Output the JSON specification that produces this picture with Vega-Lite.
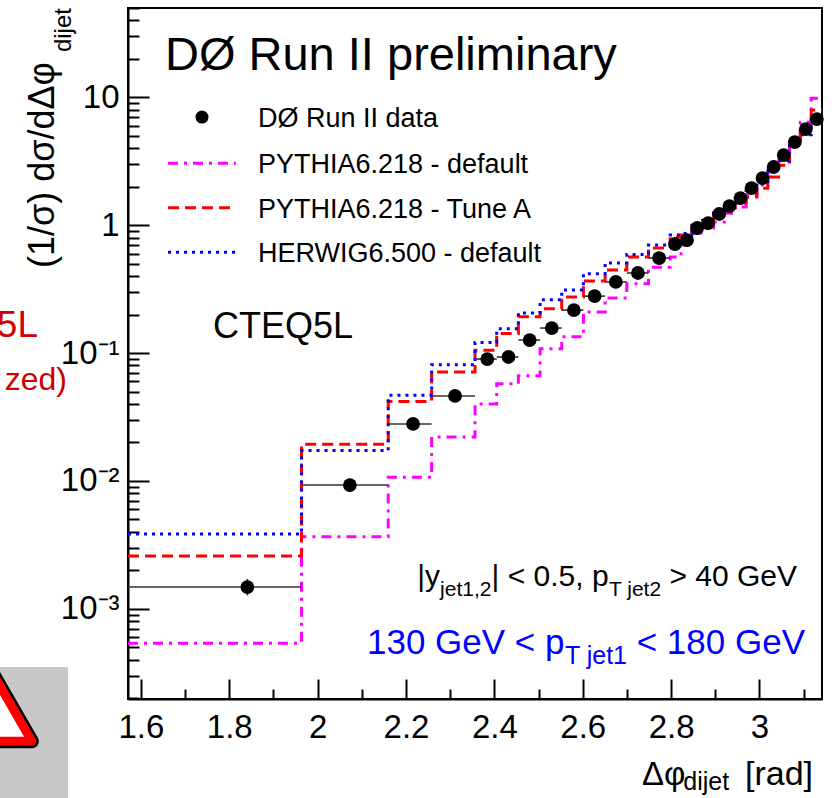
{
  "$schema": "https://vega.github.io/schema/vega-lite/v6.json",
  "width": 694,
  "height": 691,
  "autosize": {"type": "none"},
  "padding": {"left": 128, "top": 8, "right": 12, "bottom": 99},
  "background": "white",
  "config": {
    "view": {"stroke": "black", "strokeWidth": 2},
    "font": "Liberation Sans",
    "axis": {
      "grid": false,
      "domainColor": "black",
      "domainWidth": 2,
      "tickColor": "black",
      "tickWidth": 2,
      "labelColor": "black",
      "labelFont": "Liberation Sans",
      "labelFontSize": 33,
      "labelOverlap": false,
      "labelFlush": false,
      "labelBound": false
    }
  },
  "datasets": {
    "pts": [
      {"x": 1.841, "lo": 1.5708, "hi": 1.9635, "v": 0.00148, "elo": 0.00127, "ehi": 0.00171},
      {"x": 2.073, "lo": 1.9635, "hi": 2.1598, "v": 0.00929, "elo": 0.009, "ehi": 0.00958},
      {"x": 2.216, "lo": 2.1598, "hi": 2.258, "v": 0.0279, "elo": 0.0272, "ehi": 0.0286},
      {"x": 2.311, "lo": 2.258, "hi": 2.3562, "v": 0.0462, "elo": 0.0452, "ehi": 0.0472},
      {"x": 2.384, "lo": 2.3562, "hi": 2.4053, "v": 0.0898, "elo": 0.088, "ehi": 0.0916},
      {"x": 2.432, "lo": 2.4053, "hi": 2.4544, "v": 0.0932, "elo": 0.0913, "ehi": 0.0951},
      {"x": 2.48, "lo": 2.4544, "hi": 2.5035, "v": 0.1265, "elo": 0.124, "ehi": 0.129},
      {"x": 2.53, "lo": 2.5035, "hi": 2.5525, "v": 0.157, "elo": 0.154, "ehi": 0.16},
      {"x": 2.58, "lo": 2.5525, "hi": 2.6016, "v": 0.217, "elo": 0.213, "ehi": 0.221},
      {"x": 2.627, "lo": 2.6016, "hi": 2.6507, "v": 0.279, "elo": 0.274, "ehi": 0.284},
      {"x": 2.675, "lo": 2.6507, "hi": 2.6998, "v": 0.36, "elo": 0.353, "ehi": 0.367},
      {"x": 2.725, "lo": 2.6998, "hi": 2.7489, "v": 0.423, "elo": 0.415, "ehi": 0.431},
      {"x": 2.773, "lo": 2.7489, "hi": 2.798, "v": 0.554, "elo": 0.543, "ehi": 0.565},
      {"x": 2.809, "lo": 2.798, "hi": 2.8225, "v": 0.713, "elo": 0.699, "ehi": 0.727},
      {"x": 2.836, "lo": 2.8225, "hi": 2.8471, "v": 0.766, "elo": 0.751, "ehi": 0.781},
      {"x": 2.859, "lo": 2.8471, "hi": 2.8716, "v": 0.951, "elo": 0.932, "ehi": 0.97},
      {"x": 2.884, "lo": 2.8716, "hi": 2.8962, "v": 1.04, "elo": 1.019, "ehi": 1.061},
      {"x": 2.909, "lo": 2.8962, "hi": 2.9207, "v": 1.224, "elo": 1.2, "ehi": 1.248},
      {"x": 2.932, "lo": 2.9207, "hi": 2.9452, "v": 1.413, "elo": 1.385, "ehi": 1.441},
      {"x": 2.957, "lo": 2.9452, "hi": 2.9698, "v": 1.632, "elo": 1.6, "ehi": 1.664},
      {"x": 2.982, "lo": 2.9698, "hi": 2.9943, "v": 1.954, "elo": 1.915, "ehi": 1.993},
      {"x": 3.007, "lo": 2.9943, "hi": 3.0189, "v": 2.34, "elo": 2.293, "ehi": 2.387},
      {"x": 3.032, "lo": 3.0189, "hi": 3.0434, "v": 2.853, "elo": 2.796, "ehi": 2.91},
      {"x": 3.055, "lo": 3.0434, "hi": 3.068, "v": 3.54, "elo": 3.469, "ehi": 3.611},
      {"x": 3.08, "lo": 3.068, "hi": 3.0925, "v": 4.474, "elo": 4.385, "ehi": 4.563},
      {"x": 3.105, "lo": 3.0925, "hi": 3.1171, "v": 5.654, "elo": 5.541, "ehi": 5.767},
      {"x": 3.13, "lo": 3.1171, "hi": 3.1416, "v": 6.77, "elo": 6.635, "ehi": 6.905}
    ],
    "mc": [
      {"gen": "pd", "lo": 1.5708, "hi": 1.9635, "v": 0.000537},
      {"gen": "pd", "lo": 1.9635, "hi": 2.1598, "v": 0.00366},
      {"gen": "pd", "lo": 2.1598, "hi": 2.258, "v": 0.0107},
      {"gen": "pd", "lo": 2.258, "hi": 2.3562, "v": 0.0221},
      {"gen": "pd", "lo": 2.3562, "hi": 2.4053, "v": 0.04},
      {"gen": "pd", "lo": 2.4053, "hi": 2.4544, "v": 0.0575},
      {"gen": "pd", "lo": 2.4544, "hi": 2.5035, "v": 0.0665},
      {"gen": "pd", "lo": 2.5035, "hi": 2.5525, "v": 0.108},
      {"gen": "pd", "lo": 2.5525, "hi": 2.6016, "v": 0.134},
      {"gen": "pd", "lo": 2.6016, "hi": 2.6507, "v": 0.21},
      {"gen": "pd", "lo": 2.6507, "hi": 2.6998, "v": 0.27},
      {"gen": "pd", "lo": 2.6998, "hi": 2.7489, "v": 0.348},
      {"gen": "pd", "lo": 2.7489, "hi": 2.798, "v": 0.47},
      {"gen": "pd", "lo": 2.798, "hi": 2.8225, "v": 0.565},
      {"gen": "pd", "lo": 2.8225, "hi": 2.8471, "v": 0.7},
      {"gen": "pd", "lo": 2.8471, "hi": 2.8716, "v": 0.87},
      {"gen": "pd", "lo": 2.8716, "hi": 2.8962, "v": 0.95},
      {"gen": "pd", "lo": 2.8962, "hi": 2.9207, "v": 1.06},
      {"gen": "pd", "lo": 2.9207, "hi": 2.9452, "v": 1.24},
      {"gen": "pd", "lo": 2.9452, "hi": 2.9698, "v": 1.39},
      {"gen": "pd", "lo": 2.9698, "hi": 2.9943, "v": 1.72},
      {"gen": "pd", "lo": 2.9943, "hi": 3.0189, "v": 2.06},
      {"gen": "pd", "lo": 3.0189, "hi": 3.0434, "v": 2.7},
      {"gen": "pd", "lo": 3.0434, "hi": 3.068, "v": 3.3},
      {"gen": "pd", "lo": 3.068, "hi": 3.0925, "v": 4.55},
      {"gen": "pd", "lo": 3.0925, "hi": 3.1171, "v": 6.4},
      {"gen": "pd", "lo": 3.1171, "hi": 3.1416, "v": 9.85},
      {"gen": "pa", "lo": 1.5708, "hi": 1.9635, "v": 0.00259},
      {"gen": "pa", "lo": 1.9635, "hi": 2.1598, "v": 0.0194},
      {"gen": "pa", "lo": 2.1598, "hi": 2.258, "v": 0.0419},
      {"gen": "pa", "lo": 2.258, "hi": 2.3562, "v": 0.0711},
      {"gen": "pa", "lo": 2.3562, "hi": 2.4053, "v": 0.105},
      {"gen": "pa", "lo": 2.4053, "hi": 2.4544, "v": 0.142},
      {"gen": "pa", "lo": 2.4544, "hi": 2.5035, "v": 0.192},
      {"gen": "pa", "lo": 2.5035, "hi": 2.5525, "v": 0.222},
      {"gen": "pa", "lo": 2.5525, "hi": 2.6016, "v": 0.275},
      {"gen": "pa", "lo": 2.6016, "hi": 2.6507, "v": 0.367},
      {"gen": "pa", "lo": 2.6507, "hi": 2.6998, "v": 0.447},
      {"gen": "pa", "lo": 2.6998, "hi": 2.7489, "v": 0.565},
      {"gen": "pa", "lo": 2.7489, "hi": 2.798, "v": 0.665},
      {"gen": "pa", "lo": 2.798, "hi": 2.8225, "v": 0.81},
      {"gen": "pa", "lo": 2.8225, "hi": 2.8471, "v": 0.84},
      {"gen": "pa", "lo": 2.8471, "hi": 2.8716, "v": 0.98},
      {"gen": "pa", "lo": 2.8716, "hi": 2.8962, "v": 1.08},
      {"gen": "pa", "lo": 2.8962, "hi": 2.9207, "v": 1.22},
      {"gen": "pa", "lo": 2.9207, "hi": 2.9452, "v": 1.38},
      {"gen": "pa", "lo": 2.9452, "hi": 2.9698, "v": 1.49},
      {"gen": "pa", "lo": 2.9698, "hi": 2.9943, "v": 1.66},
      {"gen": "pa", "lo": 2.9943, "hi": 3.0189, "v": 1.95},
      {"gen": "pa", "lo": 3.0189, "hi": 3.0434, "v": 2.38},
      {"gen": "pa", "lo": 3.0434, "hi": 3.068, "v": 2.95},
      {"gen": "pa", "lo": 3.068, "hi": 3.0925, "v": 4.2},
      {"gen": "pa", "lo": 3.0925, "hi": 3.1171, "v": 6.0},
      {"gen": "pa", "lo": 3.1171, "hi": 3.1416, "v": 7.95},
      {"gen": "hw", "lo": 1.5708, "hi": 1.9635, "v": 0.00385},
      {"gen": "hw", "lo": 1.9635, "hi": 2.1598, "v": 0.0173},
      {"gen": "hw", "lo": 2.1598, "hi": 2.258, "v": 0.0467},
      {"gen": "hw", "lo": 2.258, "hi": 2.3562, "v": 0.081},
      {"gen": "hw", "lo": 2.3562, "hi": 2.4053, "v": 0.121},
      {"gen": "hw", "lo": 2.4053, "hi": 2.4544, "v": 0.155},
      {"gen": "hw", "lo": 2.4544, "hi": 2.5035, "v": 0.206},
      {"gen": "hw", "lo": 2.5035, "hi": 2.5525, "v": 0.261},
      {"gen": "hw", "lo": 2.5525, "hi": 2.6016, "v": 0.312},
      {"gen": "hw", "lo": 2.6016, "hi": 2.6507, "v": 0.417},
      {"gen": "hw", "lo": 2.6507, "hi": 2.6998, "v": 0.507},
      {"gen": "hw", "lo": 2.6998, "hi": 2.7489, "v": 0.59},
      {"gen": "hw", "lo": 2.7489, "hi": 2.798, "v": 0.7},
      {"gen": "hw", "lo": 2.798, "hi": 2.8225, "v": 0.84},
      {"gen": "hw", "lo": 2.8225, "hi": 2.8471, "v": 0.86},
      {"gen": "hw", "lo": 2.8471, "hi": 2.8716, "v": 1.0},
      {"gen": "hw", "lo": 2.8716, "hi": 2.8962, "v": 1.09},
      {"gen": "hw", "lo": 2.8962, "hi": 2.9207, "v": 1.25},
      {"gen": "hw", "lo": 2.9207, "hi": 2.9452, "v": 1.42},
      {"gen": "hw", "lo": 2.9452, "hi": 2.9698, "v": 1.6},
      {"gen": "hw", "lo": 2.9698, "hi": 2.9943, "v": 1.85},
      {"gen": "hw", "lo": 2.9943, "hi": 3.0189, "v": 2.2},
      {"gen": "hw", "lo": 3.0189, "hi": 3.0434, "v": 2.65},
      {"gen": "hw", "lo": 3.0434, "hi": 3.068, "v": 3.2},
      {"gen": "hw", "lo": 3.068, "hi": 3.0925, "v": 4.3},
      {"gen": "hw", "lo": 3.0925, "hi": 3.1171, "v": 5.1},
      {"gen": "hw", "lo": 3.1171, "hi": 3.1416, "v": 7.2}
    ]
  },
  "layer": [
    {
      "data": {"name": "mc"},
      "transform": [{"fold": ["lo", "hi"], "as": ["edge", "xe"]}],
      "mark": {"type": "line", "strokeWidth": 3, "strokeCap": "butt", "clip": true},
      "encoding": {
        "x": {
          "field": "xe",
          "type": "quantitative",
          "scale": {"domain": [1.5708, 3.1416], "nice": false, "zero": false},
          "axis": {
            "title": null,
            "values": [1.6, 1.65, 1.7, 1.75, 1.8, 1.85, 1.9, 1.95, 2, 2.05, 2.1, 2.15, 2.2, 2.25, 2.3, 2.35, 2.4, 2.45, 2.5, 2.55, 2.6, 2.65, 2.7, 2.75, 2.8, 2.85, 2.9, 2.95, 3, 3.05, 3.1],
            "tickSize": {"condition": {"test": "abs(datum.value*5 - round(datum.value*5)) < 0.01", "value": -20}, "value": -10},
            "labelPadding": 32,
            "labelExpr": "abs(datum.value*5 - round(datum.value*5)) < 0.01 ? format(datum.value, '~g') : ''"
          }
        },
        "y": {
          "field": "v",
          "type": "quantitative",
          "scale": {"type": "log", "domain": [0.000197, 50], "nice": false},
          "axis": {
            "title": null,
            "values": [0.0002, 0.0003, 0.0004, 0.0005, 0.0006, 0.0007, 0.0008, 0.0009, 0.001, 0.002, 0.003, 0.004, 0.005, 0.006, 0.007, 0.008, 0.009, 0.01, 0.02, 0.03, 0.04, 0.05, 0.06, 0.07, 0.08, 0.09, 0.1, 0.2, 0.3, 0.4, 0.5, 0.6, 0.7, 0.8, 0.9, 1, 2, 3, 4, 5, 6, 7, 8, 9, 10, 20, 30, 40, 50],
            "tickSize": {"condition": {"test": "abs(log(datum.value)/LN10 - round(log(datum.value)/LN10)) < 0.001", "value": -21}, "value": -11},
            "labelPadding": 30,
            "labelExpr": "abs(log(datum.value)/LN10 - round(log(datum.value)/LN10)) < 0.001 ? (datum.value > 5 ? '10' : datum.value > 0.5 ? '1' : datum.value > 0.05 ? '10⁻¹' : datum.value > 0.005 ? '10⁻²' : '10⁻³') : ''"
          }
        },
        "color": {"field": "gen", "type": "nominal", "scale": {"domain": ["pd", "pa", "hw"], "range": ["#ff00ff", "#ff0000", "#0000ff"]}, "legend": null},
        "strokeDash": {"field": "gen", "type": "nominal", "scale": {"domain": ["pd", "pa", "hw"], "range": [[10, 6, 3, 6], [11, 6], [3, 5]]}, "legend": null},
        "order": [{"field": "xe", "type": "quantitative"}, {"field": "edge", "type": "ordinal"}]
      }
    },
    {
      "data": {"name": "pts"},
      "mark": {"type": "rule", "color": "#333333", "strokeWidth": 1.6},
      "encoding": {
        "x": {"field": "lo", "type": "quantitative"},
        "x2": {"field": "hi"},
        "y": {"field": "v", "type": "quantitative"}
      }
    },
    {
      "data": {"name": "pts"},
      "mark": {"type": "rule", "color": "#333333", "strokeWidth": 1.6},
      "encoding": {
        "x": {"field": "x", "type": "quantitative"},
        "y": {"field": "elo", "type": "quantitative"},
        "y2": {"field": "ehi"}
      }
    },
    {
      "data": {"name": "pts"},
      "mark": {"type": "circle", "size": 190, "color": "black", "opacity": 1},
      "encoding": {
        "x": {"field": "x", "type": "quantitative"},
        "y": {"field": "v", "type": "quantitative"}
      }
    },
    {
      "data": {"values": [{}]},
      "mark": {"type": "rect", "color": "#c8c8c8"},
      "encoding": {"x": {"datum": 1.2766}, "x2": {"datum": 1.435}, "y": {"datum": 0.0003504}, "y2": {"datum": 0.00003196}}
    },
    {
      "data": {"values": [{}]},
      "mark": {"type": "point", "shape": "triangle-up", "size": 7000, "filled": false, "fill": "white", "fillOpacity": 1, "stroke": "black", "strokeWidth": 14, "strokeJoin": "round", "opacity": 1},
      "encoding": {"x": {"datum": 1.2585}, "y": {"datum": 0.0001768}}
    },
    {
      "data": {"values": [{}]},
      "mark": {"type": "point", "shape": "triangle-up", "size": 7000, "filled": false, "fill": "white", "fillOpacity": 1, "stroke": "#ff0000", "strokeWidth": 9, "strokeJoin": "round", "opacity": 1},
      "encoding": {"x": {"datum": 1.2585}, "y": {"datum": 0.0001768}}
    },
    {
      "data": {"values": [{}]},
      "mark": {"type": "text", "text": "5L", "fontSize": 37, "align": "right", "baseline": "alphabetic", "color": "#cc0000"},
      "encoding": {"x": {"datum": 1.3671}, "y": {"datum": 0.1334}}
    },
    {
      "data": {"values": [{}]},
      "mark": {"type": "text", "text": "zed)", "fontSize": 32, "align": "right", "baseline": "alphabetic", "color": "#cc0000"},
      "encoding": {"x": {"datum": 1.4327}, "y": {"datum": 0.0514}}
    },
    {
      "data": {"values": [{}]},
      "mark": {"type": "text", "text": "DØ Run II preliminary", "fontSize": 47, "align": "left", "baseline": "alphabetic", "color": "black"},
      "encoding": {"x": {"datum": 1.6545}, "y": {"datum": 16.36}}
    },
    {
      "data": {"values": [{}]},
      "mark": {"type": "circle", "size": 170, "color": "black", "opacity": 1},
      "encoding": {"x": {"datum": 1.7383}, "y": {"datum": 7.02}}
    },
    {
      "data": {"values": [{}]},
      "mark": {"type": "rule", "color": "#ff00ff", "strokeWidth": 3, "strokeDash": [10, 6, 3, 6]},
      "encoding": {"x": {"datum": 1.6613}, "x2": {"datum": 1.8152}, "y": {"datum": 3.05}}
    },
    {
      "data": {"values": [{}]},
      "mark": {"type": "rule", "color": "#ff0000", "strokeWidth": 3, "strokeDash": [11, 6]},
      "encoding": {"x": {"datum": 1.6613}, "x2": {"datum": 1.8152}, "y": {"datum": 1.37}}
    },
    {
      "data": {"values": [{}]},
      "mark": {"type": "rule", "color": "#0000ff", "strokeWidth": 3, "strokeDash": [3, 5]},
      "encoding": {"x": {"datum": 1.6613}, "x2": {"datum": 1.8152}, "y": {"datum": 0.614}}
    },
    {
      "data": {"values": [{}]},
      "mark": {"type": "text", "text": "DØ  Run II data", "fontSize": 27, "align": "left", "baseline": "alphabetic", "color": "black"},
      "encoding": {"x": {"datum": 1.865}, "y": {"datum": 5.91}}
    },
    {
      "data": {"values": [{}]},
      "mark": {"type": "text", "text": "PYTHIA6.218 - default", "fontSize": 27, "align": "left", "baseline": "alphabetic", "color": "black"},
      "encoding": {"x": {"datum": 1.865}, "y": {"datum": 2.57}}
    },
    {
      "data": {"values": [{}]},
      "mark": {"type": "text", "text": "PYTHIA6.218 - Tune A", "fontSize": 27, "align": "left", "baseline": "alphabetic", "color": "black"},
      "encoding": {"x": {"datum": 1.865}, "y": {"datum": 1.149}}
    },
    {
      "data": {"values": [{}]},
      "mark": {"type": "text", "text": "HERWIG6.500 - default", "fontSize": 27, "align": "left", "baseline": "alphabetic", "color": "black"},
      "encoding": {"x": {"datum": 1.865}, "y": {"datum": 0.5155}}
    },
    {
      "data": {"values": [{}]},
      "mark": {"type": "text", "text": "CTEQ5L", "fontSize": 36, "align": "left", "baseline": "alphabetic", "color": "black"},
      "encoding": {"x": {"datum": 1.7632}, "y": {"datum": 0.1312}}
    },
    {
      "data": {"values": [{}]},
      "mark": {"type": "text", "text": "|y", "fontSize": 30, "align": "right", "baseline": "alphabetic", "color": "black"},
      "encoding": {"x": {"datum": 2.2772}, "y": {"datum": 0.001507}}
    },
    {
      "data": {"values": [{}]},
      "mark": {"type": "text", "text": "jet1,2", "fontSize": 21, "align": "right", "baseline": "alphabetic", "color": "black"},
      "encoding": {"x": {"datum": 2.3935}, "y": {"datum": 0.001259}}
    },
    {
      "data": {"values": [{}]},
      "mark": {"type": "text", "text": "| < 0.5, p", "fontSize": 30, "align": "right", "baseline": "alphabetic", "color": "black"},
      "encoding": {"x": {"datum": 2.6586}, "y": {"datum": 0.001507}}
    },
    {
      "data": {"values": [{}]},
      "mark": {"type": "text", "text": "T jet2", "fontSize": 21, "align": "right", "baseline": "alphabetic", "color": "black"},
      "encoding": {"x": {"datum": 2.7774}, "y": {"datum": 0.001259}}
    },
    {
      "data": {"values": [{}]},
      "mark": {"type": "text", "text": "> 40 GeV", "fontSize": 30, "align": "right", "baseline": "alphabetic", "color": "black"},
      "encoding": {"x": {"datum": 3.085}, "y": {"datum": 0.001507}}
    },
    {
      "data": {"values": [{}]},
      "mark": {"type": "text", "text": "130 GeV < p", "fontSize": 35, "align": "right", "baseline": "alphabetic", "color": "#0000ff"},
      "encoding": {"x": {"datum": 2.5588}, "y": {"datum": 0.000443}}
    },
    {
      "data": {"values": [{}]},
      "mark": {"type": "text", "text": "T jet1", "fontSize": 25, "align": "right", "baseline": "alphabetic", "color": "#0000ff"},
      "encoding": {"x": {"datum": 2.7002}, "y": {"datum": 0.00037}}
    },
    {
      "data": {"values": [{}]},
      "mark": {"type": "text", "text": "< 180 GeV", "fontSize": 35, "align": "right", "baseline": "alphabetic", "color": "#0000ff"},
      "encoding": {"x": {"datum": 3.1031}, "y": {"datum": 0.000443}}
    },
    {
      "data": {"values": [{}]},
      "mark": {"type": "text", "text": "Δφ", "fontSize": 33, "align": "left", "baseline": "alphabetic", "color": "black"},
      "encoding": {"x": {"datum": 2.7342}, "y": {"datum": 0.0000419}}
    },
    {
      "data": {"values": [{}]},
      "mark": {"type": "text", "text": "dijet", "fontSize": 25, "align": "left", "baseline": "alphabetic", "color": "black"},
      "encoding": {"x": {"datum": 2.8275}, "y": {"datum": 0.0000383}}
    },
    {
      "data": {"values": [{}]},
      "mark": {"type": "text", "text": "[rad]", "fontSize": 34, "align": "left", "baseline": "alphabetic", "color": "black"},
      "encoding": {"x": {"datum": 2.9673}, "y": {"datum": 0.0000419}}
    },
    {
      "data": {"values": [{}]},
      "mark": {"type": "text", "text": "(1/σ) dσ/dΔφ", "fontSize": 36, "angle": 270, "align": "left", "baseline": "alphabetic", "color": "black"},
      "encoding": {"x": {"datum": 1.4033}, "y": {"datum": 0.4627}}
    },
    {
      "data": {"values": [{}]},
      "mark": {"type": "text", "text": "dijet", "fontSize": 24, "angle": 270, "align": "left", "baseline": "alphabetic", "color": "black"},
      "encoding": {"x": {"datum": 1.4421}, "y": {"datum": 22.6}}
    }
  ]
}
